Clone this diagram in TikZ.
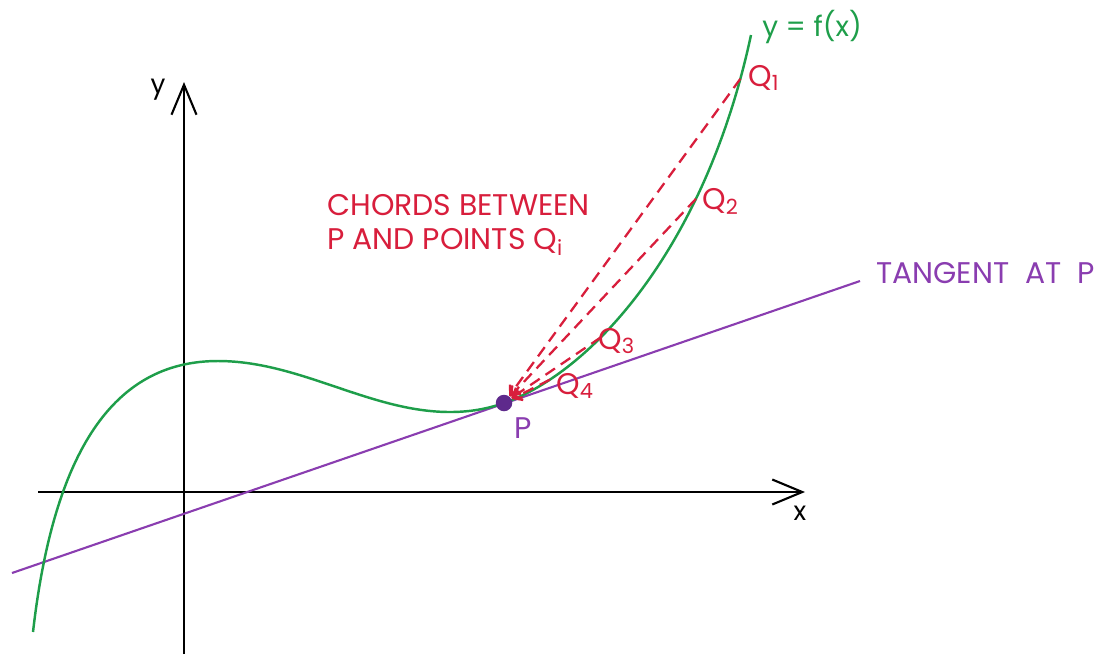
\documentclass[tikz,border=0pt]{standalone}
\usepackage{fontspec}
\setmainfont{Poppins}
\usetikzlibrary{arrows.meta}
\definecolor{curve-green}{HTML}{1E9E4A}
\definecolor{chord-red}{HTML}{D81E3C}
\definecolor{tan-purple}{HTML}{8A3DB0}
\definecolor{dot-purple}{HTML}{5E2A8C}

\begin{document}
\begin{tikzpicture}[x=0.02cm, y=-0.02cm,
    axis/.style={line width=1.2pt, -{Straight Barb[length=6mm, width=5mm, line width=1.2pt]}},
    curve/.style={curve-green, line width=1.4pt},
    tangent/.style={tan-purple, line width=1.2pt},
    chord/.style={chord-red, line width=1.3pt, dash pattern=on 6.5pt off 4pt, -{Straight Barb[length=1.6mm, width=2.4mm]}},
    dot/.style={circle, fill=dot-purple, inner sep=0pt, minimum size=0.33cm},
    redtext/.style={chord-red, font=\fontsize{17}{20}\selectfont, inner sep=0pt},
    purpletext/.style={tan-purple, font=\fontsize{17}{20}\selectfont, inner sep=0pt},
    greentext/.style={curve-green, font=\fontsize{16}{19}\selectfont, inner sep=0pt},
    axistext/.style={font=\fontsize{15}{18}\selectfont, inner sep=0pt}
]
    \useasboundingbox (0,0) rectangle (1102,654);

    % axes
    \coordinate (xstart) at (38,492);
    \coordinate (xend) at (805,492);
    \coordinate (ystart) at (184,654);
    \coordinate (yend) at (184,82);
    \draw[axis] (xstart) -- (xend);
    \draw[axis] (ystart) -- (yend);
    \node[axistext] (xlab) at (800,513) {x};
    \node[axistext] (ylab) at (158,90) {y};

    % tangent line
    \coordinate (tanstart) at (12,573);
    \coordinate (tanend) at (860,281);
    \draw[tangent] (tanstart) -- (tanend);
    \node[purpletext, anchor=west] (tanlab) at (876,273) {TANGENT\ \ AT\ \ P};

    % the curve, with the points Q on it
    \coordinate (cstart) at (33,632);
    \coordinate (cmax) at (218,361);
    \coordinate (cmin) at (450,412);
    \coordinate (Pc) at (504,403);
    \coordinate (ctop) at (751,35);
    \draw[curve] (cstart) .. controls (55,440) and (120,361) .. (cmax)
        .. controls (300,361) and (370,412) .. (cmin)
        .. controls (470,412) and (487,408.9) .. (Pc)
        .. controls (590,373) and (705,250) .. (ctop)
        coordinate[pos=0.93] (Q1) coordinate[pos=0.71] (Q2)
        coordinate[pos=0.35] (Q3) coordinate[pos=0.17] (Q4);
    \node[greentext, anchor=west] (flab) at (762,27) {y = f(x)};

    \node[dot] (P) at (Pc) {};
    \node[purpletext] (plab) at (523,428) {P};

    \foreach \q in {1,...,4}
        \draw[chord] (Q\q) -- (P);

    \node[redtext, anchor=west] (q1lab) at (748,78) {Q\textsubscript{1}};
    \node[redtext, anchor=west] (q2lab) at (702,201) {Q\textsubscript{2}};
    \node[redtext, anchor=west] (q3lab) at (598,341) {Q\textsubscript{3}};
    \node[redtext, anchor=west] (q4lab) at (556,386) {Q\textsubscript{4}};

    \node[redtext, anchor=west] (chordlab) at (327,205) {CHORDS BETWEEN};
    \node[redtext, anchor=west] (chordlab2) at (327,242) {P AND POINTS Q\textsubscript{i}};
\end{tikzpicture}
\end{document}
